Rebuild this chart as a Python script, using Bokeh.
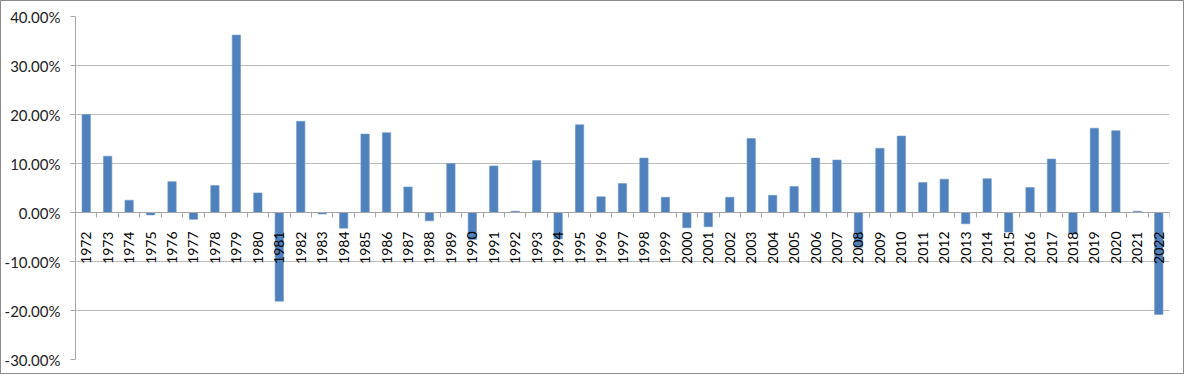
import math
from bokeh.plotting import figure
from bokeh.models import FixedTicker, NumeralTickFormatter, LinearAxis, Range1d, ColumnDataSource
from bokeh.embed import file_html
from bokeh.resources import INLINE

years = [str(y) for y in range(1972, 2023)]
returns = [20.0, 11.5, 2.5, -0.5, 6.3, -1.4, 5.5, 36.2, 4.0, -18.1,
           18.6, -0.3, -3.2, 16.0, 16.3, 5.2, -1.7, 10.0, -5.5, 9.5,
           0.26, 10.6, -5.4, 17.9, 3.2, 5.9, 11.1, 3.1, -3.1, -2.9,
           3.1, 15.1, 3.5, 5.3, 11.1, 10.7, -7.1, 13.1, 15.6, 6.1,
           6.8, -2.3, 6.9, -4.0, 5.1, 10.9, -4.4, 17.2, 16.7, 0.26,
           -20.8]
y_ticks = [-0.3, -0.2, -0.1, 0.0, 0.1, 0.2, 0.3, 0.4]

n = len(years)
centers = [i + 0.5 for i in range(n)]
bounds = [float(i) for i in range(n + 1)]
src = ColumnDataSource(dict(x=centers, top=[r / 100 for r in returns]))

FONT = "Lato"
GRID = "#bcbcbc"
AX = "#a6a6a6"

p = figure(width=1184, height=374, output_backend="svg", toolbar_location=None,
           x_range=Range1d(0, n), y_range=Range1d(-0.30, 0.40),
           x_axis_type=None, y_axis_location=None,
           min_border_left=68, min_border_right=16, min_border_top=15, min_border_bottom=16)
p.outline_line_color = None
p.background_fill_color = "white"
p.border_fill_color = "white"

p.vbar(x="x", top="top", bottom=0, width=0.39, source=src,
       fill_color="#4f81bd", line_color="#6f98c9", line_width=0.6)

# y axis
ya = LinearAxis(ticker=FixedTicker(ticks=y_ticks),
                formatter=NumeralTickFormatter(format="0.00%"))
ya.axis_line_color = AX
ya.major_tick_line_color = AX
ya.major_tick_out = 5
ya.major_tick_in = 0
ya.minor_tick_line_color = None
ya.major_label_text_font = FONT
ya.major_label_text_font_size = "15px"
ya.major_label_text_color = "#222222"
ya.major_label_standoff = 10
p.add_layout(ya, "left")

# x axis at zero
xa = LinearAxis(ticker=FixedTicker(ticks=centers, minor_ticks=bounds),
                fixed_location=0)
xa.major_label_overrides = {c: y for c, y in zip(centers, years)}
xa.major_label_orientation = math.pi / 2
xa.axis_line_color = AX
xa.major_tick_line_color = None
xa.major_tick_out = 0
xa.major_tick_in = 0
xa.minor_tick_line_color = AX
xa.minor_tick_out = 5
xa.minor_tick_in = 0
xa.major_label_text_font = FONT
xa.major_label_text_font_size = "14px"
xa.major_label_text_color = "#000000"
xa.major_label_standoff = 14
p.add_layout(xa, "below")

p.ygrid.ticker = FixedTicker(ticks=y_ticks)
p.ygrid.grid_line_color = GRID
p.ygrid.grid_line_width = 1
p.xgrid.grid_line_color = None

p.styles = {"border": "1px solid #8c8c8c", "box-sizing": "border-box"}

open("out.html", "w").write(file_html(p, INLINE))
